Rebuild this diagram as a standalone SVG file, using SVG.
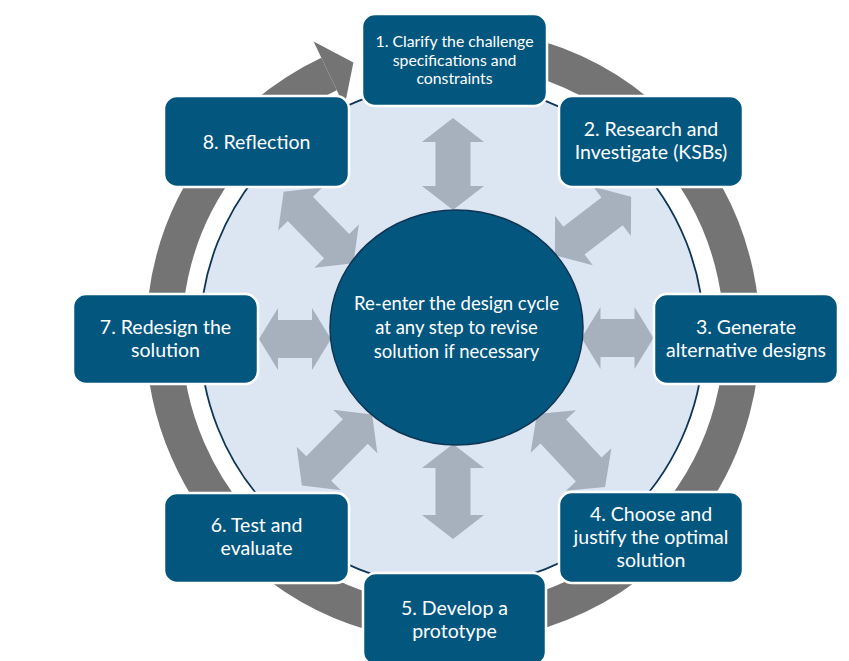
<svg xmlns="http://www.w3.org/2000/svg" width="849" height="661" viewBox="0 0 849 661">
<defs>
<style>
.box{fill:#03577F;stroke:#ffffff;stroke-width:2.5}
.t{font-family:Lato,"Liberation Sans",sans-serif;font-size:19.5px;fill:#ffffff;text-anchor:middle}
.ts{font-size:15.8px}
.tc{font-size:18.5px}
.arw{fill:#A7B1BD}
</style>
</defs>
<rect width="849" height="661" fill="#ffffff"/>
<g id="cycle-ring">
<path d="M 402.8 50.4 A 289 289 0 1 1 329.04 73.93" fill="none" stroke="#747474" stroke-width="36"/>
<polygon points="313.6,41.4 353.4,62.4 344.5,106.5" fill="#747474"/>
</g>
<circle id="inner-disc" cx="452" cy="335" r="252" fill="#DCE6F2" stroke="#0E3554" stroke-width="1.8"/>
<g id="connectors">
<path class="arw" transform="translate(453,164) rotate(90)" d="M -46 0 L -22 -31 L -22 -17.5 L 22 -17.5 L 22 -31 L 46 0 L 22 31 L 22 17.5 L -22 17.5 L -22 31 Z"/>
<path class="arw" transform="translate(453,491.5) rotate(90)" d="M -47.5 0 L -23.5 -31 L -23.5 -17.5 L 23.5 -17.5 L 23.5 -31 L 47.5 0 L 23.5 31 L 23.5 17.5 L -23.5 17.5 L -23.5 31 Z"/>
<path class="arw" transform="translate(295,339)" d="M -36 0 L -17 -31 L -17 -19 L 17 -19 L 17 -31 L 36 0 L 17 31 L 17 19 L -17 19 L -17 31 Z"/>
<path class="arw" transform="translate(617.5,338)" d="M -36 0 L -17 -31 L -17 -19 L 17 -19 L 17 -31 L 36 0 L 17 31 L 17 19 L -17 19 L -17 31 Z"/>
<path class="arw" transform="translate(318.5,227.5) rotate(45.8)" d="M -50 0 L -26 -31 L -26 -17.5 L 26 -17.5 L 26 -31 L 50 0 L 26 31 L 26 17.5 L -26 17.5 L -26 31 Z"/>
<path class="arw" transform="translate(593,226) rotate(-37.4)" d="M -48 0 L -24 -31 L -24 -17.5 L 24 -17.5 L 24 -31 L 48 0 L 24 31 L 24 17.5 L -24 17.5 L -24 31 Z"/>
<path class="arw" transform="translate(571,450.5) rotate(47)" d="M -50 0 L -26 -31 L -26 -17.5 L 26 -17.5 L 26 -31 L 50 0 L 26 31 L 26 17.5 L -26 17.5 L -26 31 Z"/>
<path class="arw" transform="translate(337,450) rotate(-45.4)" d="M -50 0 L -26 -31 L -26 -17.5 L 26 -17.5 L 26 -31 L 50 0 L 26 31 L 26 17.5 L -26 17.5 L -26 31 Z"/>
</g>
<g id="center">
<ellipse cx="456.5" cy="327.5" rx="126.5" ry="117.5" fill="#03577F" stroke="#0E3554" stroke-width="1.5"/>
<text class="t tc" x="456.5" y="310">Re-enter the design cycle</text>
<text class="t tc" x="456.5" y="334">at any step to revise</text>
<text class="t tc" x="456.5" y="358">solution if necessary</text>
</g>
<g id="step1">
<rect class="box" x="362" y="14" width="185" height="92" rx="13"/>
<text class="t ts" x="454.5" y="47">1. Clarify the challenge</text>
<text class="t ts" x="454.5" y="65.5">specifications and</text>
<text class="t ts" x="454.5" y="84">constraints</text>
</g>
<g id="step2">
<rect class="box" x="559" y="96" width="184" height="91" rx="13"/>
<text class="t" x="651" y="135.5">2. Research and</text>
<text class="t" x="651" y="158.5">Investigate (KSBs)</text>
</g>
<g id="step3">
<rect class="box" x="654" y="294" width="184" height="90" rx="13"/>
<text class="t" x="746" y="333.5">3. Generate</text>
<text class="t" x="746" y="356.5">alternative designs</text>
</g>
<g id="step4">
<rect class="box" x="559" y="492" width="184" height="91" rx="13"/>
<text class="t" x="651" y="520.5">4. Choose and</text>
<text class="t" x="651" y="543.5">justify the optimal</text>
<text class="t" x="651" y="566.5">solution</text>
</g>
<g id="step5">
<rect class="box" x="363" y="573" width="183" height="92" rx="13"/>
<text class="t" x="454.5" y="614.5">5. Develop a</text>
<text class="t" x="454.5" y="637.5">prototype</text>
</g>
<g id="step6">
<rect class="box" x="164" y="493" width="185" height="90" rx="13"/>
<text class="t" x="256.5" y="531.5">6. Test and</text>
<text class="t" x="256.5" y="554.5">evaluate</text>
</g>
<g id="step7">
<rect class="box" x="73" y="294" width="185" height="90" rx="13"/>
<text class="t" x="165.5" y="333.5">7. Redesign the</text>
<text class="t" x="165.5" y="356.5">solution</text>
</g>
<g id="step8">
<rect class="box" x="164" y="96" width="185" height="91" rx="13"/>
<text class="t" x="256.5" y="148.5">8. Reflection</text>
</g>
</svg>
